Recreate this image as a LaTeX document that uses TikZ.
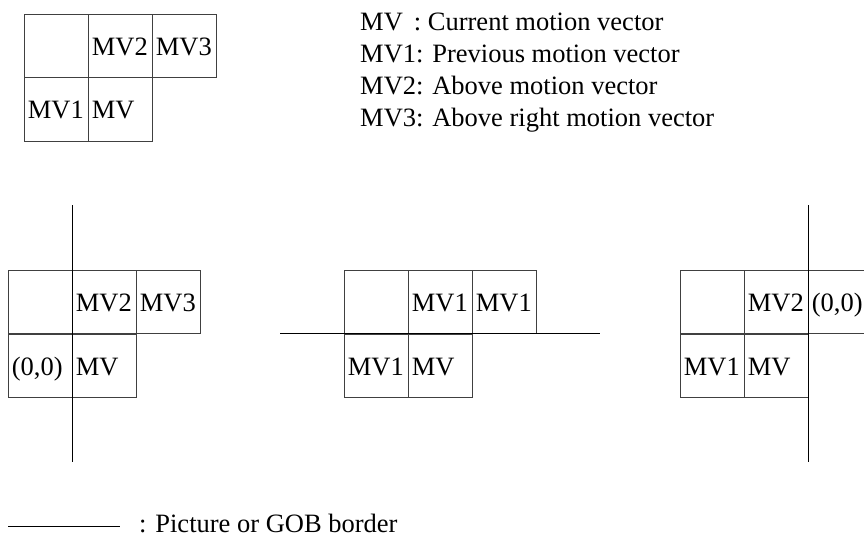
\documentclass[tikz,border=0pt]{standalone}
\usepackage{fontspec}
\setmainfont{Liberation Serif}
\begin{document}
\begin{tikzpicture}[x=1pt,y=-1pt,
  fs/.style={font=\fontsize{26.5}{32}\selectfont},
  cell/.style={draw=black!75, line width=0.8pt, anchor=north west, fs,
    minimum width=64pt, minimum height=63.5pt, text width=57pt, align=left,
    inner sep=3.5pt, text height=21pt, text depth=1.5pt},
  border/.style={draw=black, line width=1pt},
  legend/.style={fs, anchor=base west, inner sep=0pt}]
\clip (0,0) rectangle (864,536);
% top reference grid
\node[cell] (t00) at (24,13.5) {};
\node[cell] (t01) at (88,13.5) {MV2};
\node[cell] (t02) at (152,13.5) {MV3};
\node[cell] (t10) at (24,77) {MV1};
\node[cell] (t11) at (88,77) {MV};
% legend text
\node[legend] (l1) at (360,30) {MV\ \,: Current motion vector};
\node[legend] (l2) at (360,62) {MV1: Previous motion vector};
\node[legend] (l3) at (360,94) {MV2: Above motion vector};
\node[legend] (l4) at (360,126) {MV3: Above right motion vector};
% left case
\node[cell] (a00) at (8,269.5) {};
\node[cell] (a01) at (72,269.5) {MV2};
\node[cell] (a02) at (136,269.5) {MV3};
\node[cell] (a10) at (8,333.5) {(0,0)};
\node[cell] (a11) at (72,333.5) {MV};
\coordinate (av1) at (72,205);
\coordinate (av2) at (72,461.5);
\draw[border] (av1) -- (av2);
% middle case
\node[cell] (b00) at (344,269.5) {};
\node[cell] (b01) at (408,269.5) {MV1};
\node[cell] (b02) at (472,269.5) {MV1};
\node[cell] (b10) at (344,333.5) {MV1};
\node[cell] (b11) at (408,333.5) {MV};
\coordinate (bh1) at (280,333.5);
\coordinate (bh2) at (600,333.5);
\draw[border] (bh1) -- (bh2);
% right case
\node[cell] (c00) at (680,269.5) {};
\node[cell] (c01) at (744,269.5) {MV2};
\node[cell] (c02) at (808,269.5) {(0,0)};
\node[cell] (c10) at (680,333.5) {MV1};
\node[cell] (c11) at (744,333.5) {MV};
\coordinate (cv1) at (808,205);
\coordinate (cv2) at (808,461.5);
\draw[border] (cv1) -- (cv2);
% border legend
\coordinate (k1) at (8,526);
\coordinate (k2) at (120,526);
\draw[border] (k1) -- (k2);
\node[legend] (k) at (139,532) {: Picture or GOB border};
\end{tikzpicture}
\end{document}
